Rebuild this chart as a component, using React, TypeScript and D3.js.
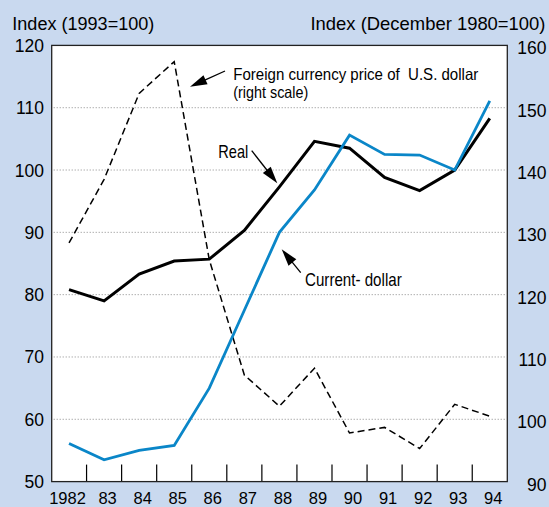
import React from "react";
import * as d3 from "d3";

const years = ["1982", "83", "84", "85", "86", "87", "88", "89", "90", "91", "92", "93", "94"];
const realValues = [80.8, 79.0, 83.3, 85.4, 85.7, 90.3, 97.3, 104.6, 103.5, 98.8, 96.7, 100.0, 108.3];
const currentValues = [56.1, 53.5, 55.0, 55.8, 65.0, 77.5, 90.0, 96.8, 105.6, 102.5, 102.4, 100.0, 111.1];
const foreignValues = [128.3, 138.5, 152.3, 157.4, 125.6, 107.1, 102.1, 108.2, 97.8, 98.7, 95.3, 102.4, 100.5];
const leftTicks = [50, 60, 70, 80, 90, 100, 110, 120];
const rightTicks = [90, 100, 110, 120, 130, 140, 150, 160];
const gridValues = [60, 70, 80, 90, 100, 110];

const W = 549;
const H = 507;
const plot = { left: 51.7, right: 507.3, top: 45.4, bottom: 481.6 };

const BG = "#c9d9ef";
const BLUE = "#0a86c8";
const FONT = "'Liberation Sans', Arial, Helvetica, sans-serif";

function Arrow({ x1, y1, x2, y2 }: { x1: number; y1: number; x2: number; y2: number }) {
  const dx = x2 - x1;
  const dy = y2 - y1;
  const len = Math.sqrt(dx * dx + dy * dy);
  const ux = dx / len;
  const uy = dy / len;
  const hl = 17;
  const hw = 5;
  const bx = x2 - ux * hl;
  const by = y2 - uy * hl;
  const p1 = [bx - uy * hw, by + ux * hw];
  const p2 = [bx + uy * hw, by - ux * hw];
  return (
    <g>
      <line x1={x1} y1={y1} x2={bx + ux * 2} y2={by + uy * 2} stroke="#000" strokeWidth={1.3} />
      <polygon points={`${x2},${y2} ${p1[0]},${p1[1]} ${p2[0]},${p2[1]}`} fill="#000" />
    </g>
  );
}

export default function App() {
  const x = d3.scaleBand<string>().domain(years).range([51.5, 507.3]).paddingInner(0).paddingOuter(0);
  const yL = d3.scaleLinear().domain([50, 120]).range([plot.bottom, plot.top]);
  const yR = d3.scaleLinear().domain([90, 160]).range([plot.bottom, plot.top]);
  const cx = (i: number) => (x(years[i]) as number) + x.bandwidth() / 2;

  const lineL = d3.line<number>().x((_, i) => cx(i)).y((d) => yL(d));
  const lineR = d3.line<number>().x((_, i) => cx(i)).y((d) => yR(d));

  return (
    <svg
      width={W}
      height={H}
      style={{ position: "absolute", left: 0, top: 0, display: "block" }}
      fontFamily={FONT}
    >
      <rect x={0} y={0} width={W} height={H} fill={BG} />
      <rect
        x={plot.left}
        y={plot.top}
        width={plot.right - plot.left}
        height={plot.bottom - plot.top}
        fill="#fff"
      />
      {gridValues.map((v) => (
        <line
          key={"g" + v}
          x1={plot.left + 2}
          x2={plot.right - 2}
          y1={yL(v)}
          y2={yL(v)}
          stroke="#8a8a8a"
          strokeWidth={1}
          strokeDasharray="1,2"
        />
      ))}
      {years.slice(1).map((yr) => (
        <line
          key={"t" + yr}
          x1={x(yr) as number}
          x2={x(yr) as number}
          y1={plot.bottom}
          y2={plot.bottom - 17}
          stroke="#000"
          strokeWidth={1.2}
        />
      ))}
      <path d={lineR(foreignValues) || ""} fill="none" stroke="#000" strokeWidth={1.5} strokeDasharray="7,4" />
      <path d={lineL(realValues) || ""} fill="none" stroke="#000" strokeWidth={3} strokeLinejoin="miter" />
      <path d={lineL(currentValues) || ""} fill="none" stroke={BLUE} strokeWidth={2.8} strokeLinejoin="miter" />
      <rect
        x={plot.left}
        y={plot.top}
        width={plot.right - plot.left}
        height={plot.bottom - plot.top}
        fill="none"
        stroke="#222"
        strokeWidth={1.3}
      />
      {leftTicks.map((v) => (
        <text key={"l" + v} x={44} y={yL(v) + 6.5} textAnchor="end" fontSize={17.5} fill="#000">
          {v}
        </text>
      ))}
      {rightTicks.map((v) => (
        <text key={"r" + v} x={546.5} y={yR(v) + 9} textAnchor="end" fontSize={17.5} fill="#000">
          {v}
        </text>
      ))}
      {years.map((yr, i) => (
        <text key={"x" + yr} x={cx(i) + (i === 0 ? -1.5 : 3.5)} y={503.5} textAnchor="middle" fontSize={16.5} fill="#000">
          {yr}
        </text>
      ))}
      <text x={12.3} y={30} fontSize={18} textLength={142} lengthAdjust="spacingAndGlyphs" fill="#000">
        Index (1993=100)
      </text>
      <text x={310.5} y={30} fontSize={18.2} textLength={235} lengthAdjust="spacingAndGlyphs" fill="#000">
        Index (December 1980=100)
      </text>
      <text
        x={233.3}
        y={79.5}
        fontSize={16.5}
        textLength={245}
        lengthAdjust="spacingAndGlyphs"
        style={{ whiteSpace: "pre" }}
        fill="#000"
      >
        {"Foreign currency price of  U.S. dollar"}
      </text>
      <text x={233.3} y={97.5} fontSize={16.5} textLength={75} lengthAdjust="spacingAndGlyphs" fill="#000">
        (right scale)
      </text>
      <text x={218.3} y={158.3} fontSize={18.5} textLength={30} lengthAdjust="spacingAndGlyphs" fill="#000">
        Real
      </text>
      <text
        x={305}
        y={286}
        fontSize={18.5}
        textLength={96.7}
        lengthAdjust="spacingAndGlyphs"
        style={{ whiteSpace: "pre" }}
        fill="#000"
      >
        {"Current- dollar"}
      </text>
      <Arrow x1={225} y1={71} x2={190} y2={86.7} />
      <Arrow x1={251.7} y1={150.7} x2={277.3} y2={183.3} />
      <Arrow x1={300.7} y1={272.7} x2={281.7} y2={249.3} />
    </svg>
  );
}
